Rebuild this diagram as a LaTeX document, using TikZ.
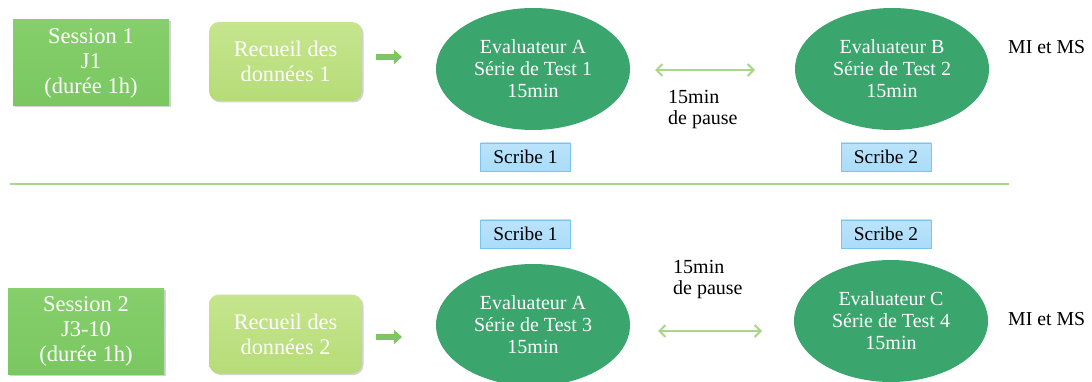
\documentclass[tikz,border=0pt]{standalone}
\usepackage{fontspec}
\setmainfont{Liberation Serif}
\usetikzlibrary{shapes.geometric,arrows.meta,shadows,calc}
\definecolor{sessgreen}{HTML}{7AC760}
\definecolor{sessgreenL}{HTML}{86CF6C}
\definecolor{recgreen}{HTML}{C6E58E}
\definecolor{recgreenD}{HTML}{B6DC78}
\definecolor{evalgreen}{HTML}{3AA66E}
\definecolor{scribefill}{HTML}{AADCFA}
\definecolor{scribeline}{HTML}{78C6EE}
\definecolor{linegreen}{HTML}{A9D68C}
\definecolor{arrowgreen}{HTML}{7CC664}
\tikzset{
  sessbox/.style={rectangle, top color=sessgreenL, bottom color=sessgreen, draw=none,
    minimum width=156pt, minimum height=86pt, inner sep=0pt, text=white, align=center,
    font=\fontsize{22.5}{25}\selectfont, drop shadow={shadow xshift=1.5pt, shadow yshift=-1.5pt, opacity=0.35}},
  recbox/.style={rectangle, rounded corners=10pt, top color=recgreen, bottom color=recgreenD, draw=none,
    minimum width=153pt, minimum height=79pt, inner sep=0pt, text=white, align=center,
    font=\fontsize{22.3}{25}\selectfont, drop shadow={shadow xshift=1.5pt, shadow yshift=-1.5pt, opacity=0.35}},
  evalnode/.style={ellipse, fill=evalgreen, draw=none, minimum width=194pt, minimum height=122pt,
    inner sep=0pt, text=white, align=center, font=\fontsize{20}{22}\selectfont},
  scribebox/.style={rectangle, top color=scribefill!80!white, bottom color=scribefill, draw=scribeline, line width=0.8pt,
    minimum width=90pt, minimum height=28pt, inner sep=0pt, text=black, font=\fontsize{19.4}{22}\selectfont},
  pausetext/.style={align=left, text=black, font=\fontsize{20}{21.5}\selectfont, inner sep=0pt, anchor=north west},
  mitext/.style={text=black, font=\fontsize{19.8}{22}\selectfont, inner sep=0pt, anchor=west},
  blockarrow/.style={draw=arrowgreen, line width=5.5pt, -{Triangle[length=8pt,width=14pt]}},
  pausearrow/.style={draw=linegreen, line width=2pt, {Straight Barb[length=6pt,width=12pt]}-{Straight Barb[length=6pt,width=12pt]}},
  sepline/.style={draw=linegreen, line width=1.5pt}
}
\begin{document}
\begin{tikzpicture}[x=1pt,y=-1pt]
\useasboundingbox (0,0) rectangle (1092,382);
% top row
\node[sessbox] (s1) at (91,63) {Session 1\\J1\\(durée 1h)};
\node[recbox] (r1) at (285.5,61.5) {Recueil des\\données 1};
\coordinate (a1s) at (376,57);
\coordinate (a1e) at (402,57);
\draw[blockarrow] (a1s) -- (a1e);
\node[evalnode] (e1) at (533,69) {Evaluateur A\\Série de Test 1\\15min};
\node[evalnode] (e2) at (892,69) {Evaluateur B\\Série de Test 2\\15min};
\coordinate (p1s) at (655,70);
\coordinate (p1e) at (755,70);
\draw[pausearrow] (p1s) -- (p1e);
\node[pausetext] (t1) at (668,90) {15min\\de pause};
\node[scribebox] (sc1) at (525.5,157) {Scribe 1};
\node[scribebox] (sc2) at (886,157) {Scribe 2};
\node[mitext] (m1) at (1008,47) {MI et MS};
% separator
\coordinate (l1) at (10,184);
\coordinate (l2) at (1009,184);
\draw[sepline] (l1) -- (l2);
% bottom row
\node[scribebox] (sc3) at (525.5,234) {Scribe 1};
\node[scribebox] (sc4) at (886,234) {Scribe 2};
\node[sessbox] (s2) at (86,331.5) {Session 2\\J3-10\\(durée 1h)};
\node[recbox] (r2) at (285.5,334) {Recueil des\\données 2};
\coordinate (a2s) at (376,337);
\coordinate (a2e) at (402,337);
\draw[blockarrow] (a2s) -- (a2e);
\node[evalnode] (e3) at (533,325) {Evaluateur A\\Série de Test 3\\15min};
\node[evalnode] (e4) at (891,321) {Evaluateur C\\Série de Test 4\\15min};
\coordinate (p2s) at (658,331);
\coordinate (p2e) at (762,331);
\draw[pausearrow] (p2s) -- (p2e);
\node[pausetext] (t2) at (673,260) {15min\\de pause};
\node[mitext] (m2) at (1008,319) {MI et MS};
\end{tikzpicture}
\end{document}
